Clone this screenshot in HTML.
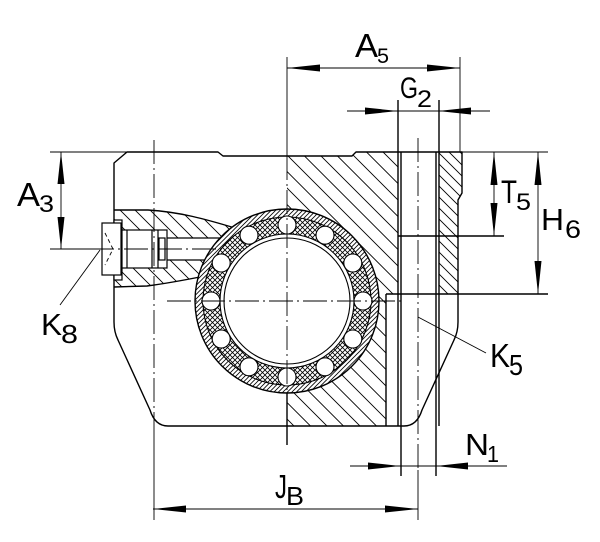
<!DOCTYPE html>
<html><head><meta charset="utf-8"><style>
html,body{margin:0;padding:0;background:#fff;}
svg{display:block;}
text{font-family:"Liberation Sans","DejaVu Sans",sans-serif;fill:#000;}
</style></head><body>
<svg width="600" height="542" viewBox="0 0 600 542" xmlns="http://www.w3.org/2000/svg">
<defs>
<pattern id="h1" patternUnits="userSpaceOnUse" width="16.5" height="16.5">
<path d="M0,0 L16.5,16.5 M-2,14.5 L2,18.5 M14.5,-2 L18.5,2" stroke="#000" stroke-width="0.9"/>
</pattern>
<pattern id="h2" patternUnits="userSpaceOnUse" width="11" height="11">
<path d="M0,0 L11,11 M-2,9 L2,13 M9,-2 L13,2" stroke="#000" stroke-width="0.9"/>
</pattern>
<pattern id="h3" patternUnits="userSpaceOnUse" width="15" height="15">
<path d="M0,0 L15,15 M-2,13 L2,17 M13,-2 L17,2" stroke="#000" stroke-width="0.9"/>
</pattern>
<pattern id="rb" patternUnits="userSpaceOnUse" width="4.5" height="4.5">
<path d="M0,4.5 L4.5,0 M-1,1 L1,-1 M3.5,5.5 L5.5,3.5" stroke="#000" stroke-width="0.8"/>
</pattern>
<pattern id="xh" patternUnits="userSpaceOnUse" width="5" height="5">
<path d="M0,5 L5,0 M0,0 L5,5" stroke="#000" stroke-width="0.8"/>
</pattern>
</defs>
<rect width="600" height="542" fill="#fff"/>

<path d="M287,156 L352,156 L356,152 L398,152 L398,294 L386,294 L386,426 L287,426 Z" fill="url(#h1)"/>
<path d="M439,152 L462,152 L462,193 L458,200 L458,294 L439,294 Z" fill="url(#h2)"/>
<path d="M114,210 L148,210 C180,212 205,219 235,228 L200,277 C185,280 170,283 147,286 L114,287 Z" fill="url(#h3)"/>

<g fill="none" stroke="#000" stroke-width="1.4" stroke-linejoin="round">
<path d="M127,152 L218,152 L223,156 L352,156 L356,152 L462,152 L462,193 L458,200 L458,322 Q458,332 454,340 L422,410 Q417,426 404,426 L168,426 Q155,426 150,410 L118,340 Q114,332 114,322 L114,163 Z"/>
<path d="M114,210 L148,210 C180,212 205,219 235,228"/>
<path d="M114,287 L147,286 C170,283 185,280 205,276"/>
<path d="M386,294 L548,294"/>
<path d="M386,294 L386,426"/>
<path d="M398,100 L398,426"/>
<path d="M401,152 L401,476"/>
<path d="M436,152 L436,476"/>
<path d="M439,100 L439,426"/>
<path d="M398,236 L504,236"/>
<path d="M287,392 L287,445"/>
</g>

<g fill="#fff" stroke="#000" stroke-width="1.2">
<rect x="167" y="238" width="60" height="22" stroke="none"/>
<path d="M167,238 L225,238 M167,260 L215,260" fill="none"/>
<rect x="114" y="220" width="8" height="60"/>
<rect x="102" y="223" width="19" height="52"/>
<rect x="122" y="230" width="45" height="38"/>
<path d="M127,230 L127,268 M152,230 L152,268 M158,230 L158,268" fill="none"/>
<rect x="159" y="238" width="6" height="22"/>
</g>
<polyline points="105,233 113,249 105,265" fill="none" stroke="#000" stroke-width="0.9" stroke-dasharray="4,3"/>

<circle cx="287" cy="301" r="92" fill="#fff"/>
<circle cx="287" cy="301" r="92" fill="url(#rb)" stroke="#000" stroke-width="1.4"/>
<circle cx="287" cy="301" r="84" fill="#fff"/>
<circle cx="287" cy="301" r="84" fill="url(#xh)" stroke="#000" stroke-width="1.1"/>
<circle cx="287" cy="301" r="67" fill="#fff" stroke="#000" stroke-width="1.1"/>
<circle cx="287" cy="301" r="63" fill="none" stroke="#000" stroke-width="1.1"/>
<g fill="#fff" stroke="#000" stroke-width="1.1">
<circle cx="363" cy="301" r="9"/>
<circle cx="352.8" cy="339" r="9"/>
<circle cx="325" cy="366.8" r="9"/>
<circle cx="287" cy="377" r="9"/>
<circle cx="249" cy="366.8" r="9"/>
<circle cx="221.2" cy="339" r="9"/>
<circle cx="211" cy="301" r="9"/>
<circle cx="221.2" cy="263" r="9"/>
<circle cx="249" cy="235.2" r="9"/>
<circle cx="287" cy="225" r="9"/>
<circle cx="325" cy="235.2" r="9"/>
<circle cx="352.8" cy="263" r="9"/>
</g>

<g fill="none" stroke="#000" stroke-width="0.9" stroke-dasharray="24,4,2,4">
<path d="M167,301 L405,301"/>
<path d="M90,249 L225,249"/>
<path d="M287,156 L287,392"/>
<path d="M154,140 L154,426"/>
<path d="M418,138 L418,470"/>
</g>

<g fill="none" stroke="#000" stroke-width="0.9">
<path d="M287,57 L287,156"/>
<path d="M460,57 L460,152"/>
<path d="M154,426 L154,520"/>
<path d="M418,470 L418,520"/>
<path d="M462,152 L548,152"/>
<path d="M50,152 L127,152"/>
<path d="M50,249 L102,249"/>
<path d="M287,68 L460,68"/>
<path d="M347,111 L490,111"/>
<path d="M350,466 L507,466"/>
<path d="M153,509 L418,509"/>
<path d="M61,152 L61,249"/>
<path d="M494,152 L494,236"/>
<path d="M538,152 L538,294"/>
<path d="M418,317 L486,353"/>
<path d="M100,250 L60,305"/>
</g>

<g fill="#000" stroke="none">
<polygon points="287,68 320,64.5 320,71.5"/>
<polygon points="460,68 427,64.5 427,71.5"/>
<polygon points="398,111 365,107.5 365,114.5"/>
<polygon points="438,111 471,107.5 471,114.5"/>
<polygon points="400,466 368,462.5 368,469.5"/>
<polygon points="436,466 468,462.5 468,469.5"/>
<polygon points="153,509 186,505.5 186,512.5"/>
<polygon points="418,509 385,505.5 385,512.5"/>
<polygon points="61,152 57.5,184 64.5,184"/>
<polygon points="61,249 57.5,217 64.5,217"/>
<polygon points="494,152 490.5,185 497.5,185"/>
<polygon points="494,236 490.5,203 497.5,203"/>
<polygon points="538,152 534.5,185 541.5,185"/>
<polygon points="538,294 534.5,261 541.5,261"/>
</g>

<g>
<text x="355" y="57" font-size="33" textLength="23" lengthAdjust="spacingAndGlyphs">A</text>
<text x="377" y="63" font-size="21" textLength="12" lengthAdjust="spacingAndGlyphs">5</text>
<text x="400" y="98" font-size="30" textLength="18" lengthAdjust="spacingAndGlyphs">G</text>
<text x="417" y="107" font-size="24" textLength="15" lengthAdjust="spacingAndGlyphs">2</text>
<text x="17" y="206" font-size="33" textLength="23" lengthAdjust="spacingAndGlyphs">A</text>
<text x="39" y="212" font-size="24" textLength="15" lengthAdjust="spacingAndGlyphs">3</text>
<text x="41" y="335" font-size="31" textLength="21" lengthAdjust="spacingAndGlyphs">K</text>
<text x="61" y="343" font-size="26" textLength="17" lengthAdjust="spacingAndGlyphs">8</text>
<text x="501" y="203" font-size="32" textLength="16" lengthAdjust="spacingAndGlyphs">T</text>
<text x="516" y="210" font-size="24" textLength="15" lengthAdjust="spacingAndGlyphs">5</text>
<text x="541" y="230" font-size="31" textLength="23" lengthAdjust="spacingAndGlyphs">H</text>
<text x="565" y="238" font-size="25" textLength="16" lengthAdjust="spacingAndGlyphs">6</text>
<text x="490" y="367" font-size="33" textLength="20" lengthAdjust="spacingAndGlyphs">K</text>
<text x="509" y="375" font-size="29" textLength="14" lengthAdjust="spacingAndGlyphs">5</text>
<text x="465" y="455" font-size="31" textLength="24" lengthAdjust="spacingAndGlyphs">N</text>
<text x="487" y="462" font-size="23" textLength="12" lengthAdjust="spacingAndGlyphs">1</text>
<text x="275" y="498" font-size="33" textLength="12" lengthAdjust="spacingAndGlyphs">J</text>
<text x="286" y="505" font-size="26" textLength="18" lengthAdjust="spacingAndGlyphs">B</text>
</g>
</svg>
</body></html>
